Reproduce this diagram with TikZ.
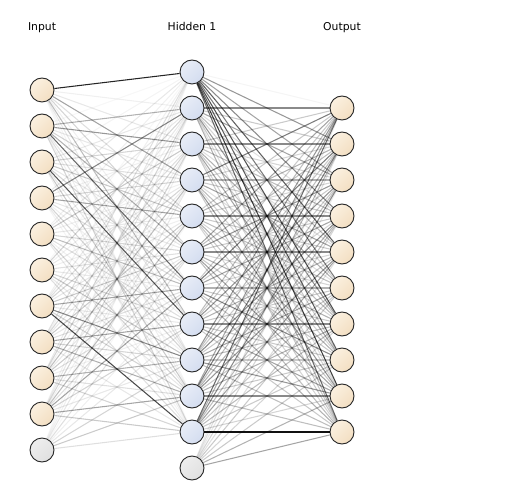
\documentclass[tikz,border=0pt]{standalone}
\usepackage{fontspec}
\setmainfont{DejaVu Sans}
\begin{document}
\begin{tikzpicture}[x=1pt,y=-1pt,
  neuron/.style={circle,draw=black!85,line width=0.9pt,minimum size=24pt,inner sep=0pt,shading angle=45},
  inneuron/.style={neuron,top color=inTop,bottom color=inBot,shading angle=45},
  hidneuron/.style={neuron,top color=hidTop,bottom color=hidBot,shading angle=45},
  biasneuron/.style={neuron,top color=biasTop,bottom color=biasBot,shading angle=45},
  edge/.style={draw=black,line width=1.05pt},
  layerlabel/.style={anchor=base,font=\fontsize{10.8}{13}\selectfont}]
\definecolor{inTop}{HTML}{FBF0E0}
\definecolor{inBot}{HTML}{F3DFC2}
\definecolor{hidTop}{HTML}{E8EDF7}
\definecolor{hidBot}{HTML}{D4DDF0}
\definecolor{biasTop}{HTML}{EEEEEE}
\definecolor{biasBot}{HTML}{E0E0E0}
\useasboundingbox (0,0) rectangle (505,502);

% labels
\node[layerlabel] (lin) at (42,30.5) {Input};
\node[layerlabel] (lhid) at (192,30.5) {Hidden 1};
\node[layerlabel] (lout) at (342,30.5) {Output};

% nodes
\foreach \k in {1,...,10} \node[inneuron] (i\k) at (42,{90+36*(\k-1)}) {};
\node[biasneuron] (i11) at (42,450) {};
\foreach \k in {1,...,11} \node[hidneuron] (h\k) at (192,{72+36*(\k-1)}) {};
\node[biasneuron] (h12) at (192,468) {};
\foreach \k in {1,...,10} \node[inneuron] (o\k) at (342,{108+36*(\k-1)}) {};

% input -> hidden
\foreach \row [count=\i] in {
 {.9,.15,.2,.5,.25,.3,.15,.4,.2,.12,.1},
 {.1,.45,.55,.2,.3,.45,.7,.2,.25,.15,.3},
 {.12,.2,.3,.25,.35,.2,.3,.75,.2,.35,.15},
 {.2,.6,.15,.3,.5,.2,.25,.15,.3,.2,.12},
 {.15,.2,.35,.15,.2,.3,.4,.25,.15,.3,.2},
 {.1,.3,.15,.2,.15,.25,.2,.3,.35,.2,.25},
 {.15,.2,.25,.3,.2,.35,.5,.2,.6,.3,.8},
 {.25,.15,.3,.2,.35,.2,.25,.5,.3,.45,.2},
 {.2,.3,.15,.4,.2,.35,.25,.15,.45,.25,.3},
 {.15,.2,.3,.15,.4,.25,.5,.3,.2,.5,.35},
 {.1,.12,.15,.2,.1,.25,.15,.2,.3,.35,.25}}
 {\foreach \w [count=\j] in \row {
   \pgfmathsetmacro\op{\w^1.5}
   \draw[edge,draw opacity=\op] (i\i) -- (h\j);}}

% hidden -> output
\foreach \row [count=\i] in {
 {.08,.5,.45,.55,.7,.6,.75,.7,.8,.65},
 {.55,.3,.45,.2,.35,.25,.5,.3,.2,.4},
 {.3,.55,.25,.35,.2,.4,.3,.45,.25,.3},
 {.6,.25,.4,.3,.45,.2,.35,.25,.5,.3},
 {.3,.4,.25,.55,.3,.35,.25,.4,.3,.25},
 {.45,.35,.5,.3,.55,.25,.4,.3,.45,.35},
 {.3,.6,.3,.45,.25,.4,.3,.55,.3,.4},
 {.35,.3,.5,.25,.4,.3,.55,.3,.45,.3},
 {.5,.35,.3,.55,.3,.45,.35,.3,.5,.35},
 {.45,.6,.35,.4,.5,.3,.4,.3,.55,.35},
 {.65,.4,.55,.35,.45,.3,.35,.3,.25,.95},
 {.15,.2,.15,.25,.2,.3,.25,.3,.4,.45}}
 {\foreach \w [count=\j] in \row {
   \pgfmathsetmacro\op{\w^1.3}
   \draw[edge,draw opacity=\op] (h\i) -- (o\j);}}
\end{tikzpicture}
\end{document}
